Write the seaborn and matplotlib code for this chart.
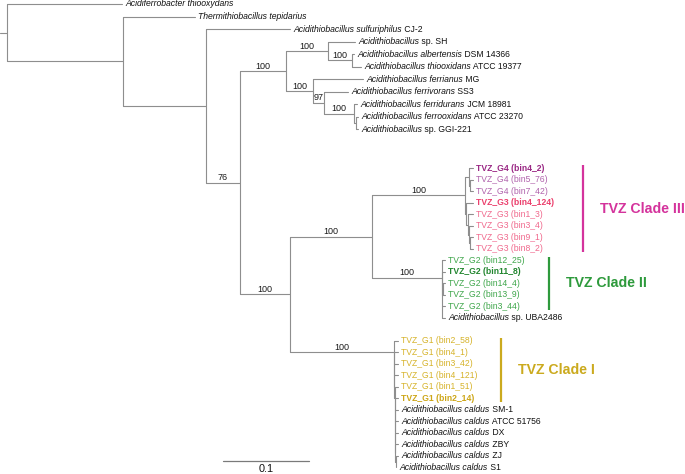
import matplotlib
matplotlib.use("Agg")
import matplotlib.pyplot as plt
from matplotlib.transforms import offset_copy
import pandas as pd
import seaborn as sns

# ---------------- data ----------------
# Tree topology, branch lengths (substitutions/site) and bootstrap support.
CLADE3_NWK = ("((bin4_2:0.0047,(bin5_76:0.0035,bin7_42:0.0035):0.0012):0.0047,"
              "(bin4_124:0.0081,(bin1_3:0.0058,(bin3_4:0.0047,(bin9_1:0.0035,bin8_2:0.0035)"
              ":0.0012):0.0012):0.0023):0.0012)100:0.1081")
CLADE2_NWK = ("(bin12_25:0.0035,(bin11_8:0.0030,(bin14_4:0.0025,bin13_9:0.0025):0.0005,"
              "bin3_44:0.0030,UBA2486:0.0030):0.0005)100:0.0814")
CLADE1_NWK = ("(bin2_58:0.0047,(bin4_1:0.0045,(bin3_42:0.0043,(bin4_121:0.0041,(bin1_51:0.0039,"
              "(bin2_14:0.0037,(SM1:0.0035,(ATCC51756:0.0033,(DX:0.0031,(ZBY:0.0029,(ZJ:0.0027,S1:0.0003)"
              ":0.0002):0.0002):0.0002):0.0002):0.0002):0.0002):0.0002):0.0002):0.0002):0.0002)100:0.1209")
NEWICK = ("(Afer:0.1337,(Tte:0.0837,(Asu:0.0977,(((SH:0.0314,(Aal:0.0023,Ath:0.0105)100:0.0279)100:0.0488,"
          "(Afm:0.0581,(Afv:0.0279,(Afd:0.0035,(Afo:0.0023,GGI:0.0023):0.0023)100:0.0349)97:0.0128)100:0.0314)100:0.0535,"
          "((" + CLADE3_NWK + "," + CLADE2_NWK + ")100:0.0953," + CLADE1_NWK + ")100:0.0581)76:0.0395)"
          ":0.0965):0.1349):0.0081;")

tip_keys = ["Afer", "Tte", "Asu", "SH", "Aal", "Ath", "Afm", "Afv", "Afd", "Afo", "GGI",
            "bin4_2", "bin5_76", "bin7_42", "bin4_124", "bin1_3", "bin3_4", "bin9_1", "bin8_2",
            "bin12_25", "bin11_8", "bin14_4", "bin13_9", "bin3_44", "UBA2486",
            "bin2_58", "bin4_1", "bin3_42", "bin4_121", "bin1_51", "bin2_14",
            "SM1", "ATCC51756", "DX", "ZBY", "ZJ", "S1"]
tip_italic = ["Acidiferrobacter thiooxydans", "Thermithiobacillus tepidarius",
              "Acidithiobacillus sulfuriphilus", "Acidithiobacillus", "Acidithiobacillus albertensis",
              "Acidithiobacillus thiooxidans", "Acidithiobacillus ferrianus", "Acidithiobacillus ferrivorans",
              "Acidithiobacillus ferridurans", "Acidithiobacillus ferrooxidans", "Acidithiobacillus",
              "", "", "", "", "", "", "", "",
              "", "", "", "", "", "Acidithiobacillus",
              "", "", "", "", "", "",
              "Acidithiobacillus caldus", "Acidithiobacillus caldus", "Acidithiobacillus caldus",
              "Acidithiobacillus caldus", "Acidithiobacillus caldus", "Acidithiobacillus caldus"]
tip_plain = ["", "", " CJ-2", " sp. SH", " DSM 14366", " ATCC 19377", " MG", " SS3", " JCM 18981",
             " ATCC 23270", " sp. GGI-221",
             "TVZ_G4 (bin4_2)", "TVZ_G4 (bin5_76)", "TVZ_G4 (bin7_42)", "TVZ_G3 (bin4_124)",
             "TVZ_G3 (bin1_3)", "TVZ_G3 (bin3_4)", "TVZ_G3 (bin9_1)", "TVZ_G3 (bin8_2)",
             "TVZ_G2 (bin12_25)", "TVZ_G2 (bin11_8)", "TVZ_G2 (bin14_4)", "TVZ_G2 (bin13_9)",
             "TVZ_G2 (bin3_44)", " sp. UBA2486",
             "TVZ_G1 (bin2_58)", "TVZ_G1 (bin4_1)", "TVZ_G1 (bin3_42)", "TVZ_G1 (bin4_121)",
             "TVZ_G1 (bin1_51)", "TVZ_G1 (bin2_14)",
             " SM-1", " ATCC 51756", " DX", " ZBY", " ZJ", " S1"]
tip_group = (["ref"] * 11 + ["G4"] * 3 + ["G3"] * 5 + ["G2"] * 5 + ["ref"] + ["G1"] * 6 + ["ref"] * 6)
bold_tips = ["bin4_2", "bin4_124", "bin11_8", "bin2_14"]

clade_names = ["TVZ Clade III", "TVZ Clade II", "TVZ Clade I"]
clade_first = ["bin4_2", "bin12_25", "bin2_58"]
clade_last = ["bin8_2", "bin3_44", "bin2_14"]
scale_length = 0.1
scale_label = "0.1"

# ---------------- styles / layout ----------------
group_color = {"ref": "#111111", "G4": "#B062AC", "G3": "#F0698D", "G2": "#3FA64B", "G1": "#D6B32A"}
bold_color = {"G4": "#9A2784", "G3": "#EB3F6C", "G2": "#22862F", "G1": "#CDA617"}
clade_color = ["#D4339C", "#2E9A3C", "#CBAA1E"]
clade_bar_x = [0.6779, 0.6384, 0.5826]
BRANCH_COLOR = "#8E8E8E"
PX_PER_UNIT_X = 860.0
ROW_PX = 11.5
TOP_PX = 4.0
W, H = 685, 474
TOP_STEP = 1.09
GAP_BEFORE = {"bin4_2": 3.4, "bin2_58": 2.0}
TIP_FS = 6.25
BOOT_FS = 6.5

sns.set_style("white")
plt.rcParams["font.family"] = ["Liberation Sans", "DejaVu Sans"]


def parse_newick(s):
    pos = 0

    def node():
        nonlocal pos
        n = {"children": [], "name": None, "length": 0.0, "support": None}
        if s[pos] == "(":
            pos += 1
            while True:
                n["children"].append(node())
                if s[pos] == ",":
                    pos += 1
                    continue
                pos += 1  # ')'
                break
        start = pos
        while pos < len(s) and s[pos] not in ":,);":
            pos += 1
        lab = s[start:pos]
        if n["children"]:
            n["support"] = lab or None
        else:
            n["name"] = lab
        if pos < len(s) and s[pos] == ":":
            pos += 1
            start = pos
            while pos < len(s) and s[pos] not in ",);":
                pos += 1
            n["length"] = float(s[start:pos])
        return n

    return node()


root = parse_newick(NEWICK)

# tip y positions (row units)
tip_y = {}
y = 0.0
for i, k in enumerate(tip_keys):
    if i > 0:
        if k in GAP_BEFORE:
            y += GAP_BEFORE[k]
        elif "bin4_2" not in tip_y:
            y += TOP_STEP
        else:
            y += 1.0
    tip_y[k] = y


def layout(n, parent_x):
    n["x"] = parent_x + n["length"]
    n["px"] = parent_x
    if n["children"]:
        for c in n["children"]:
            layout(c, n["x"])
        n["y"] = 0.5 * (n["children"][0]["y"] + n["children"][-1]["y"])
    else:
        n["y"] = tip_y[n["name"]]


layout(root, 0.0)

segs = []
nodes = []


def collect(n):
    nodes.append(n)
    segs.append((n["px"], n["y"], n["x"], n["y"]))
    if n["children"]:
        ys = [c["y"] for c in n["children"]]
        segs.append((n["x"], min(ys), n["x"], max(ys)))
        for c in n["children"]:
            collect(c)


collect(root)
rows = []
for i, (x0, y0, x1, y1) in enumerate(segs):
    rows.append({"seg": i, "x": x0, "y": y0, "o": 0})
    rows.append({"seg": i, "x": x1, "y": y1, "o": 1})
seg_df = pd.DataFrame(rows)

fig = plt.figure(figsize=(W / 100, H / 100), dpi=100)
ax = fig.add_axes([0, 0, 1, 1])
sns.lineplot(data=seg_df, x="x", y="y", units="seg", estimator=None, sort=False,
             color=BRANCH_COLOR, lw=0.8, ax=ax, legend=False)
ax.set_xlim(0, W / PX_PER_UNIT_X)
ax.set_ylim((H - TOP_PX) / ROW_PX, -TOP_PX / ROW_PX)
ax.set_axis_off()

# bootstrap values
for n in nodes:
    if n["support"]:
        ax.text(0.5 * (n["px"] + n["x"]), n["y"] - 0.04, n["support"], ha="center", va="bottom",
                fontsize=BOOT_FS, color="#1a1a1a")

# tip labels
fig.canvas.draw()
renderer = fig.canvas.get_renderer()
tip_x = {n["name"]: n["x"] for n in nodes if not n["children"]}
base_tr = offset_copy(ax.transData, fig=fig, x=3.5, y=0, units="dots")
for k, it, pl, g in zip(tip_keys, tip_italic, tip_plain, tip_group):
    bold = k in bold_tips
    col = bold_color[g] if bold else group_color[g]
    xx, yy = tip_x[k], tip_y[k]
    w = 0.0
    if it:
        t = ax.text(xx, yy, it, transform=base_tr, fontsize=TIP_FS, style="italic",
                    ha="left", va="center", color=col)
        w = t.get_window_extent(renderer=renderer).width
    if pl:
        tr = offset_copy(ax.transData, fig=fig, x=3.5 + w, y=0, units="dots")
        ax.text(xx, yy, pl, transform=tr, fontsize=TIP_FS, ha="left", va="center",
                color=col, fontweight="bold" if bold else "normal")

# clade bars and labels
for name, f, l, c, bx in zip(clade_names, clade_first, clade_last, clade_color, clade_bar_x):
    y0, y1 = tip_y[f] - 0.28, tip_y[l] + 0.28
    ax.plot([bx, bx], [y0, y1], color=c, lw=1.6, solid_capstyle="butt")
    ax.text(bx + 17 / PX_PER_UNIT_X, 0.5 * (y0 + y1), name, ha="left", va="center",
            fontsize=10.2, fontweight="bold", color=c)

# scale bar
sb_x0 = 223 / PX_PER_UNIT_X
sb_y = (461 - TOP_PX) / ROW_PX
ax.plot([sb_x0, sb_x0 + scale_length], [sb_y, sb_y], color="#7a7a7a", lw=0.9)
ax.text(sb_x0 + scale_length / 2, (464.5 - TOP_PX) / ROW_PX, scale_label, ha="center", va="top",
        fontsize=7.8, color="#111111")

fig.savefig("out.png", dpi=100)
